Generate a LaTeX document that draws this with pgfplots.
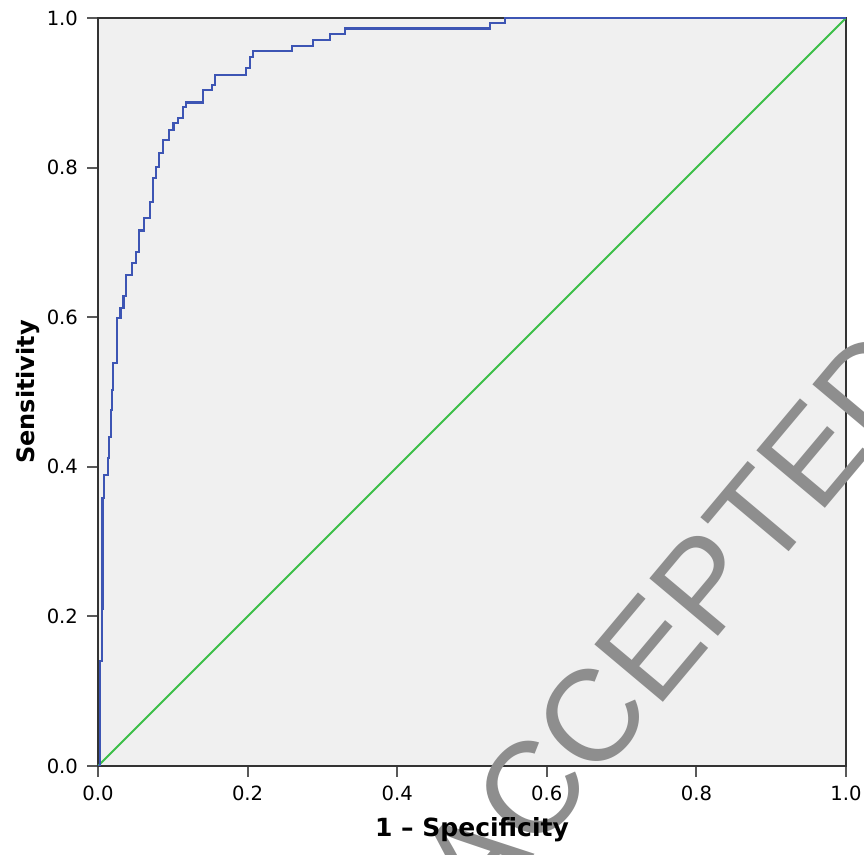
\documentclass[border=0pt]{standalone}
\usepackage{pgfplots}
\pgfplotsset{compat=1.18}
\usepackage{fontspec}
\setmainfont{DejaVu Sans}
\newfontfamily\wmfont{Liberation Sans}

\definecolor{plotbg}{HTML}{F0F0F0}
\definecolor{rocblue}{HTML}{3D55B4}
\definecolor{refgreen}{HTML}{3CBF48}
\definecolor{wmgray}{HTML}{8E8E8E}

% ROC curve (1 - specificity, sensitivity)
\pgfplotstableread{
x      y
0      0
0.003  0
0.003  0.14
0.005  0.14
0.005  0.21
0.006  0.21
0.006  0.358
0.008  0.358
0.008  0.389
0.013  0.389
0.013  0.412
0.015  0.412
0.015  0.44
0.017  0.44
0.017  0.476
0.019  0.476
0.019  0.503
0.0205 0.503
0.0205 0.539
0.025  0.539
0.025  0.599
0.030  0.599
0.030  0.612
0.034  0.612
0.034  0.628
0.0374 0.628
0.0374 0.656
0.045  0.656
0.045  0.672
0.051  0.672
0.051  0.687
0.055  0.687
0.055  0.716
0.061  0.716
0.061  0.733
0.069  0.733
0.069  0.754
0.074  0.754
0.074  0.786
0.078  0.786
0.078  0.801
0.082  0.801
0.082  0.819
0.087  0.819
0.087  0.837
0.095  0.837
0.095  0.850
0.101  0.850
0.101  0.860
0.107  0.860
0.107  0.866
0.114  0.866
0.114  0.881
0.118  0.881
0.118  0.887
0.140  0.887
0.140  0.904
0.152  0.904
0.152  0.910
0.156  0.910
0.156  0.924
0.198  0.924
0.198  0.933
0.203  0.933
0.203  0.948
0.207  0.948
0.207  0.956
0.259  0.956
0.259  0.963
0.287  0.963
0.287  0.971
0.310  0.971
0.310  0.979
0.330  0.979
0.330  0.986
0.524  0.986
0.524  0.993
0.544  0.993
0.544  1
1      1
}\roc

\begin{document}
\begin{tikzpicture}
\begin{axis}[
  name=roc,
  width=374pt, height=374pt,
  scale only axis,
  xmin=0, xmax=1, ymin=0, ymax=1,
  axis background/.style={fill=plotbg},
  axis line style={black!80, line width=0.8pt},
  xtick={0,0.2,...,1.0},
  ytick={0,0.2,...,1.0},
  xtick pos=bottom, ytick pos=left,
  tick align=outside,
  major tick length=5.5pt,
  tick style={black!65, line width=1pt},
  xticklabel style={font=\fontsize{9.8}{11}\selectfont, yshift=-1pt},
  yticklabel style={font=\fontsize{9.8}{11}\selectfont, xshift=-1pt},
  /pgf/number format/assume math mode=true,
  /pgf/number format/.cd, fixed, fixed zerofill, precision=1, /pgfplots/.cd,
  ylabel={\textbf{Sensitivity}},
  ylabel style={font=\fontsize{12}{14}\selectfont, at={(axis description cs:-0.0936,0.5)}, anchor=center},
]
\addplot[refgreen, line width=0.9pt] coordinates {(0,0) (1,1)};
\addplot[rocblue, line width=1.1pt, line join=miter] table[x=x, y=y] {\roc};
\end{axis}

% watermark
\node[wmgray, rotate=50, font=\wmfont\fontsize{65}{65}\selectfont, anchor=center]
  at ([shift={(287.5pt,72.5pt)}]roc.south west) {ACCEPTED};

% x label on top of the watermark
\node[font=\fontsize{12.5}{14}\selectfont\bfseries] at ([yshift=-32pt]roc.south) {1 -- Specificity};

\pgfresetboundingbox
\path[use as bounding box] ([shift={(-49pt,-44.5pt)}]roc.south west)
  rectangle ([shift={(9pt,9pt)}]roc.north east);
\end{tikzpicture}
\end{document}
